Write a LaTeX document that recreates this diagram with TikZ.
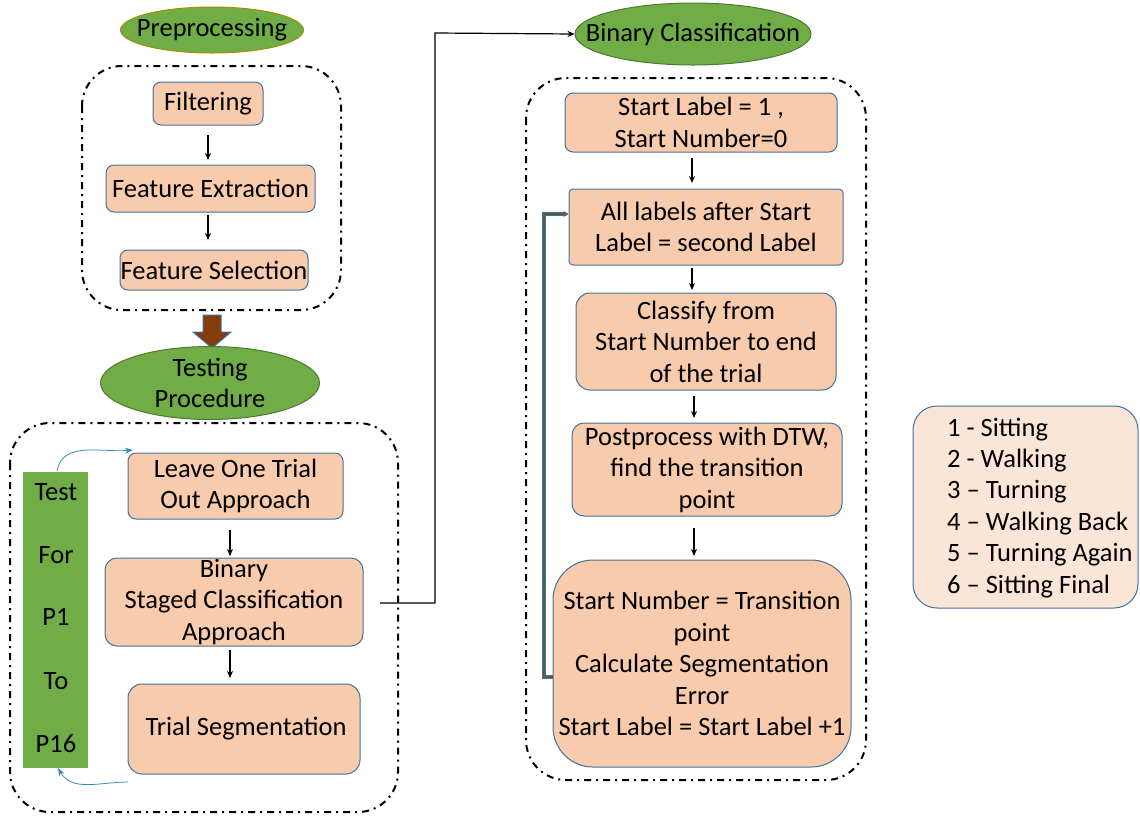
\documentclass[tikz,border=0pt]{standalone}
\usepackage{fontspec}
\setmainfont{Carlito}
\usetikzlibrary{shapes.geometric,arrows.meta}
\definecolor{boxfill}{HTML}{F8CBAD}
\definecolor{boxline}{HTML}{41719C}
\definecolor{ovalfill}{HTML}{70AD47}
\definecolor{legfill}{HTML}{FBE5D6}
\definecolor{brownarrow}{HTML}{843C0C}
\definecolor{loopcol}{HTML}{5E5A3E}
\tikzset{
  txt/.style={font=\fontsize{26.5}{31.5}\selectfont},
  proc/.style={txt, draw=boxline, fill=boxfill, line width=1pt, rounded corners=8pt, align=center, inner sep=0pt},
  oval/.style={ellipse, draw=ovalfill!70!black, fill=ovalfill, line width=1pt, inner sep=0pt},
  ovaltxt/.style={txt, align=center, inner sep=0pt},
  group/.style={draw=black, line width=2pt, dash pattern=on 7pt off 5pt on 2pt off 5pt, rounded corners=40pt},
  arr/.style={-{Stealth[length=7pt,width=6pt]}, line width=1.2pt},
  thinarr/.style={-{Stealth[length=8pt,width=6pt]}, draw=boxline!80!cyan, line width=0.8pt},
}
\begin{document}
\begin{tikzpicture}[x=1pt,y=-1pt]
\useasboundingbox (0,0) rectangle (1140,815);
% Preprocessing
\node[oval, draw=olive!80!orange, minimum width=183pt, minimum height=46pt] (pre) at (212,30) {};
\node[ovaltxt] (pret) at (pre) {Preprocessing};
\draw[group] (82,66) rectangle (341,310);
\node[proc, minimum width=110pt, minimum height=43pt] (filt) at (208,103.5) {Filtering};
\node[proc, minimum width=209pt, minimum height=47pt] (fext) at (210.5,188.5) {Feature Extraction};
\node[proc, minimum width=188pt, minimum height=40pt] (fsel) at (214,270) {Feature Selection};
\draw[arr] (208,135) -- (208,160);
\draw[arr] (208,215) -- (208,240);
% brown arrow
\draw[draw=boxline, fill=brownarrow, line width=1pt, line join=miter] (203,315) -- (221,315) -- (221,332) -- (231,332) -- (212,348) -- (193,332) -- (203,332) -- cycle;
% Testing
\node[oval, minimum width=219pt, minimum height=73pt] (test) at (210,383) {};
\node[ovaltxt] (testt) at (test) {Testing\\Procedure};
\draw[group] (10,423) rectangle (398,812);
\node[fill=ovalfill, minimum width=65pt, minimum height=296pt, inner sep=0pt] (green) at (55.5,620) {};
\foreach \t/\yy in {Test/492, For/555, P1/617, To/681, P16/744}
  \node[txt, inner sep=0pt] at (56,\yy) {\t};
\node[proc, minimum width=215pt, minimum height=66pt] (loo) at (235.5,486) {Leave One Trial\\Out Approach};
\node[proc, minimum width=258pt, minimum height=88pt, rounded corners=12pt] (bsc) at (234,602) {Binary\\Staged Classification\\Approach};
\node[proc, minimum width=232pt, minimum height=90pt, rounded corners=14pt] (seg) at (244,729) {\hspace*{4pt}Trial Segmentation};
\draw[arr] (230,530) -- (230,556);
\draw[arr] (230,650) -- (230,678);
\coordinate (c1) at (57,471);
\coordinate (c2) at (133,450);
\draw[thinarr] (c1) to[out=80, in=185] (c2);
\coordinate (c3) at (128,782);
\coordinate (c4) at (58,768);
\draw[thinarr] (c3) to[out=180, in=-60] (c4);
% connector to binary classification
\node[oval, minimum width=236pt, minimum height=62pt] (bc) at (693,34) {};
\node[ovaltxt] (bct) at (bc) {Binary Classification};
\coordinate (s0) at (380,603);
\draw[arr] (s0) -- (435,603) -- (435,33) -- (bc.west);
% right group
\draw[group] (526,78) rectangle (866,780);
\node[proc, minimum width=272pt, minimum height=59pt] (sl) at (701,122.5) {Start Label = 1 ,\\Start Number=0};
\node[proc, minimum width=274pt, minimum height=76pt, rounded corners=4pt] (al) at (706,227) {All labels after Start\\Label = second Label};
\node[proc, minimum width=260pt, minimum height=97pt, rounded corners=14pt] (cl) at (706,341.5) {Classify from\\Start Number to end\\of the trial};
\node[proc, minimum width=270pt, minimum height=93pt, rounded corners=12pt] (pp) at (707,469.5) {Postprocess with DTW,\\find the transition\\point};
\node[proc, minimum width=298pt, minimum height=207pt, rounded corners=40pt] (sn) at (702,663.5) {Start Number = Transition\\point\\Calculate Segmentation\\Error\\Start Label = Start Label +1};
\draw[arr] (692,158) -- (692,183);
\draw[arr] (692,268) -- (692,290);
\draw[arr] (694,396) -- (694,418);
\draw[arr] (694,528) -- (694,556);
\draw[-{Stealth[length=5pt,width=6pt]}, draw=boxline, line width=3.5pt] (sn.west |- 0,677) -- (544,677) -- (544,214) -- (al.west |- 0,214);
\draw[-{Stealth[length=3pt,width=4pt]}, draw=loopcol, line width=1.8pt] (sn.west |- 0,677) -- (544,677) -- (544,214) -- ([xshift=-1pt]al.west |- 0,214);
% legend
\node[draw=boxline, fill=legfill, line width=1pt, rounded corners=24pt, minimum width=225pt, minimum height=202pt, inner sep=0pt] (leg) at (1025.5,507) {};
\foreach \t/\yy in {1 - Sitting/430, 2 - Walking/461, 3 – Turning/492, 4 – Walking Back/524, 5 – Turning Again/555, 6 – Sitting Final/587}
  \node[txt, anchor=west, inner sep=0pt] at (947,\yy) {\t};
\end{tikzpicture}
\end{document}
